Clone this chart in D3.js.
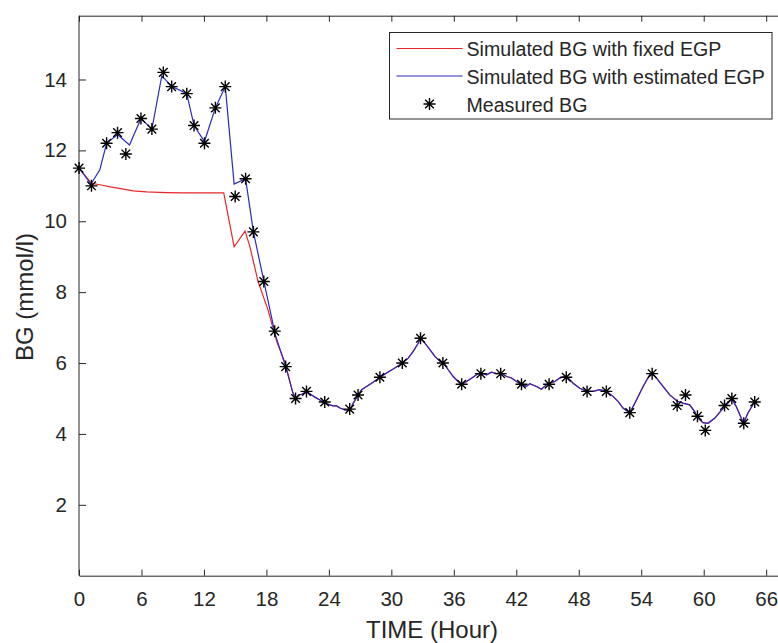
<!DOCTYPE html>
<html>
<head>
<meta charset="utf-8">
<script src="https://cdn.jsdelivr.net/npm/d3@7"></script>
<style>
  body { margin: 0; background: #fff; }
  svg { display: block; font-family: "Liberation Sans", Arial, sans-serif; }
  .axis text { fill: #262626; font-size: 20.5px; }
  .axis path, .axis line { stroke: #262626; stroke-width: 1; }
</style>
</head>
<body>
<div id="chart"></div>
<script>
// Measured BG (asterisks)
const measuredTime = [0, 1.2, 2.65, 3.7, 4.5, 5.95, 7.0, 8.1, 8.9, 10.35, 11.05, 12.05, 13.1, 14.05, 15.0,
  16.0, 16.75, 17.75, 18.8, 19.85, 20.8, 21.85, 23.6, 26.0, 26.8, 28.9, 31.05, 32.8, 34.95, 36.75,
  38.6, 40.5, 42.5, 45.15, 46.8, 48.8, 50.65, 52.9, 55.05, 57.45, 58.25, 59.4, 60.15, 62.0, 62.7, 63.85, 64.9];
const measuredBG = [11.5, 11.0, 12.2, 12.5, 11.9, 12.9, 12.6, 14.2, 13.8, 13.6, 12.7, 12.2, 13.2, 13.8, 10.7,
  11.2, 9.7, 8.3, 6.9, 5.9, 5.0, 5.2, 4.9, 4.7, 5.1, 5.6, 6.0, 6.7, 6.0, 5.4,
  5.7, 5.7, 5.4, 5.4, 5.6, 5.2, 5.2, 4.6, 5.7, 4.8, 5.1, 4.5, 4.1, 4.8, 5.0, 4.3, 4.9];

// Simulated with fixed EGP, first part
const fixedTime = [0, 1.2, 2.0, 3.0, 4.0, 5.2, 6.5, 8.4, 10.0, 12.0, 13.9, 14.9, 15.95, 16.4, 17.2, 18.15, 19.0, 19.8, 20.55];
const fixedBG = [11.5, 11.07, 11.03, 10.97, 10.92, 10.86, 10.83, 10.81, 10.8, 10.8, 10.8, 9.28, 9.72, 9.3, 8.3, 7.5, 6.6, 6.0, 5.15];

// Simulated with estimated EGP, first part
const estTime = [0, 1.15, 2.0, 2.65, 3.7, 4.85, 5.95, 7.0, 7.95, 8.95, 10.35, 11.05, 12.05, 13.1, 14.05, 14.9,
  16.0, 16.75, 17.8, 18.85, 19.9, 20.5];
const estBG = [11.5, 11.05, 11.45, 12.2, 12.45, 12.15, 12.9, 12.6, 14.1, 13.8, 13.6, 12.7, 12.25, 13.2, 13.8, 11.05,
  11.2, 9.7, 8.25, 6.8, 5.85, 5.2];

// Both simulations overlap after ~21 h
const tailTime = [20.8, 21.1, 21.4, 21.86, 22.34, 22.82, 23.14, 23.62, 24.1, 24.42, 24.74, 25.06, 25.54, 26.02,
  26.34, 26.82, 27.14, 27.62, 28.1, 28.9, 29.54, 30.18, 31.07, 31.62, 32.1, 32.58, 32.8, 33.22, 33.7, 34.18,
  34.66, 34.98, 35.46, 35.94, 36.41, 36.74, 37.22, 37.7, 38.18, 38.59, 39.14, 39.62, 40.1, 40.51, 41.06, 41.54,
  42.02, 42.5, 42.98, 43.3, 43.94, 44.42, 44.9, 45.15, 45.7, 46.18, 46.82, 47.46, 48.1, 48.8, 49.38, 50.0,
  50.65, 51.29, 51.77, 52.25, 52.9, 53.54, 54.18, 54.82, 55.04, 55.45, 56.09, 56.74, 57.47, 58.01, 58.65,
  59.13, 59.39, 59.93, 60.41, 61.05, 61.53, 62.01, 62.71, 63.13, 63.61, 63.83, 64.25, 64.89];
const tailBG = [5.0, 5.1, 5.12, 5.2, 5.1, 5.01, 4.96, 4.87, 4.82, 4.79, 4.79, 4.73, 4.68, 4.66,
  4.87, 5.1, 5.25, 5.34, 5.43, 5.59, 5.72, 5.83, 6.0, 6.14, 6.33, 6.56, 6.7, 6.56, 6.38, 6.19,
  6.05, 6.02, 5.81, 5.62, 5.48, 5.4, 5.48, 5.57, 5.67, 5.72, 5.67, 5.74, 5.7, 5.72, 5.62, 5.58,
  5.48, 5.39, 5.34, 5.42, 5.34, 5.26, 5.39, 5.43, 5.48, 5.58, 5.62, 5.43, 5.29, 5.2, 5.2, 5.25,
  5.2, 5.06, 4.92, 4.73, 4.59, 4.96, 5.34, 5.67, 5.72, 5.58, 5.34, 5.1, 4.92, 4.87, 4.82,
  4.63, 4.47, 4.32, 4.3, 4.44, 4.61, 4.77, 4.99, 4.77, 4.44, 4.3, 4.59, 4.9];

const xTicks = [0, 6, 12, 18, 24, 30, 36, 42, 48, 54, 60, 66];
const yTicks = [2, 4, 6, 8, 10, 12, 14];
const legendLabels = ["Simulated BG with fixed EGP", "Simulated BG with estimated EGP", "Measured BG"];

// размеры
const W = 778, H = 643;
const margin = { top: 15.7, left: 79 };
const width = 708, height = 560;

const svg = d3.select("#chart").append("svg")
  .attr("width", W).attr("height", H);

const g = svg.append("g")
  .attr("transform", `translate(${margin.left},${margin.top})`);

const x = d3.scaleLinear().domain([0, 68]).range([0, width]);
const y = d3.scaleLinear().domain([0, 15.8]).range([height, 0]);

// оси (тики внутрь, как в MATLAB)
g.append("g").attr("class", "axis")
  .attr("transform", `translate(0,${height})`)
  .call(d3.axisBottom(x).tickValues(xTicks).tickSizeInner(-6).tickSizeOuter(0).tickPadding(16))
  .call(a => a.selectAll("text").attr("dy", "0.71em"));

g.append("g").attr("class", "axis")
  .call(d3.axisTop(x).tickValues(xTicks).tickSizeInner(-6).tickSizeOuter(0).tickFormat(""));

g.append("g").attr("class", "axis")
  .call(d3.axisLeft(y).tickValues(yTicks).tickSizeInner(-7).tickSizeOuter(0).tickPadding(12))
  .call(a => a.select(".domain").attr("d", `M0,0V${height}`));

g.append("g").attr("class", "axis")
  .attr("transform", `translate(${width},0)`)
  .call(d3.axisRight(y).tickValues(yTicks).tickSizeInner(-7).tickSizeOuter(0).tickFormat(""));

// подписи осей
svg.append("text")
  .attr("x", 432).attr("y", 638)
  .attr("text-anchor", "middle")
  .attr("font-size", 24).attr("fill", "#262626")
  .text("TIME (Hour)");

svg.append("text")
  .attr("transform", "translate(33,297) rotate(-90)")
  .attr("text-anchor", "middle")
  .attr("font-size", 24).attr("fill", "#262626")
  .text("BG (mmol/l)");

// линии
const line = d3.line().x(d => x(d[0])).y(d => y(d[1]));
const fixedPts = d3.zip(fixedTime.concat(tailTime), fixedBG.concat(tailBG));
const estPts = d3.zip(estTime.concat(tailTime), estBG.concat(tailBG));

g.append("path").datum(fixedPts)
  .attr("d", line).attr("fill", "none")
  .attr("stroke", "#e8262a").attr("stroke-width", 1.2);

g.append("path").datum(estPts)
  .attr("d", line).attr("fill", "none")
  .attr("stroke", "#2a2ac0").attr("stroke-width", 1.2);

// маркер-звёздочка
const star = "M-6,0H6M0,-6V6M-4.3,-4.3L4.3,4.3M-4.3,4.3L4.3,-4.3";

g.append("g").selectAll("path")
  .data(d3.zip(measuredTime, measuredBG))
  .join("path")
  .attr("transform", d => `translate(${x(d[0])},${y(d[1])})`)
  .attr("d", star)
  .attr("stroke", "#000").attr("stroke-width", 1.4).attr("fill", "none");

// легенда
const legend = svg.append("g").attr("transform", "translate(389.5,32.5)");
legend.append("rect")
  .attr("width", 382.5).attr("height", 86.5)
  .attr("fill", "#fff").attr("stroke", "#262626").attr("stroke-width", 1);

const rowY = [16, 43.5, 71.5];
const legendColors = ["#e8262a", "#2a2ac0", null];

legendLabels.forEach((label, i) => {
  if (legendColors[i]) {
    legend.append("line")
      .attr("x1", 7).attr("x2", 73).attr("y1", rowY[i]).attr("y2", rowY[i])
      .attr("stroke", legendColors[i]).attr("stroke-width", 1.2);
  } else {
    legend.append("path")
      .attr("transform", `translate(40,${rowY[i]})`)
      .attr("d", star)
      .attr("stroke", "#000").attr("stroke-width", 1.4).attr("fill", "none");
  }
  legend.append("text")
    .attr("x", 77).attr("y", rowY[i] + 7.5)
    .attr("font-size", 19.6).attr("fill", "#262626")
    .text(label);
});
</script>
</body>
</html>
